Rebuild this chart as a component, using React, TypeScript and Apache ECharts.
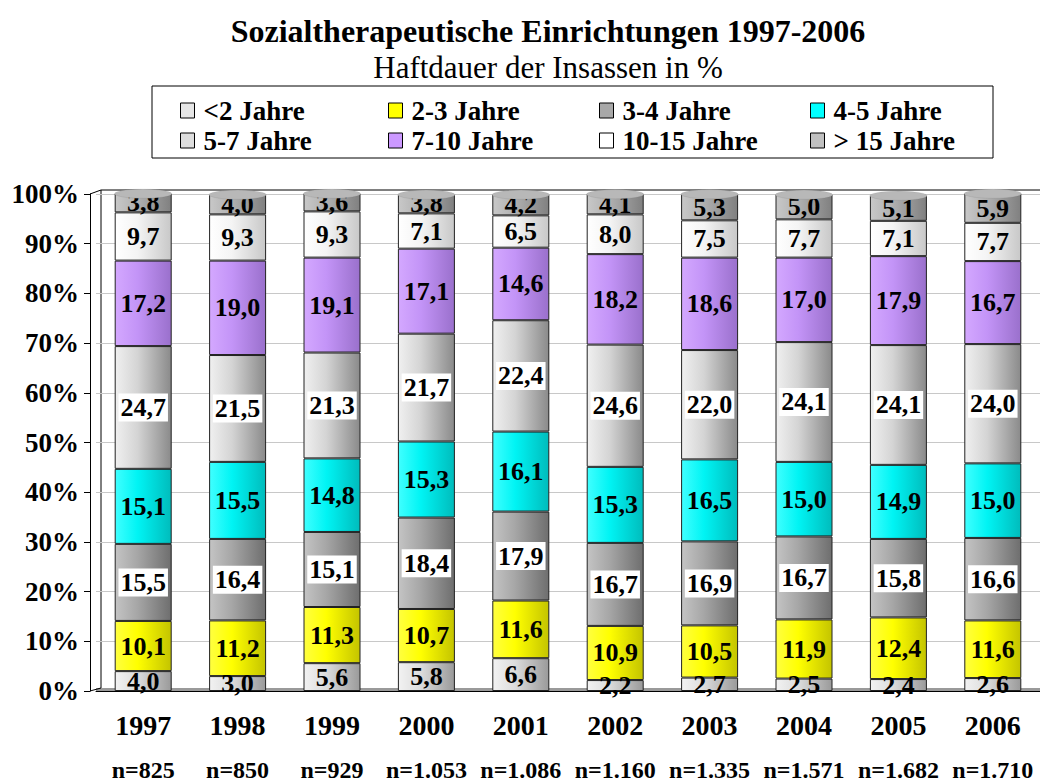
import React, { useEffect, useRef } from "react";
import * as echarts from "echarts";

const years = ["1997", "1998", "1999", "2000", "2001", "2002", "2003", "2004", "2005", "2006"];
const nLabels = ["n=825", "n=850", "n=929", "n=1.053", "n=1.086", "n=1.160", "n=1.335", "n=1.571", "n=1.682", "n=1.710"];
const seriesNames = ["<2 Jahre", "2-3 Jahre", "3-4 Jahre", "4-5 Jahre", "5-7 Jahre", "7-10 Jahre", "10-15 Jahre", "> 15 Jahre"];

const lt2 = [4.0, 3.0, 5.6, 5.8, 6.6, 2.2, 2.7, 2.5, 2.4, 2.6];
const y2to3 = [10.1, 11.2, 11.3, 10.7, 11.6, 10.9, 10.5, 11.9, 12.4, 11.6];
const y3to4 = [15.5, 16.4, 15.1, 18.4, 17.9, 16.7, 16.9, 16.7, 15.8, 16.6];
const y4to5 = [15.1, 15.5, 14.8, 15.3, 16.1, 15.3, 16.5, 15.0, 14.9, 15.0];
const y5to7 = [24.7, 21.5, 21.3, 21.7, 22.4, 24.6, 22.0, 24.1, 24.1, 24.0];
const y7to10 = [17.2, 19.0, 19.1, 17.1, 14.6, 18.2, 18.6, 17.0, 17.9, 16.7];
const y10to15 = [9.7, 9.3, 9.3, 7.1, 6.5, 8.0, 7.5, 7.7, 7.1, 7.7];
const gt15 = [3.8, 4.0, 3.6, 3.8, 4.2, 4.1, 5.3, 5.0, 5.1, 5.9];

const seriesData = [lt2, y2to3, y3to4, y4to5, y5to7, y7to10, y10to15, gt15];
const legendColors = ["#e6e6e6", "#ffff00", "#a8a8a8", "#00ffff", "#dedede", "#cc99ff", "#ffffff", "#c0c0c0"];
const gradColors: string[][] = [
  ["#f2f2f2", "#dcdcdc", "#9a9a9a"],
  ["#ffff40", "#ffff00", "#c4c400"],
  ["#c4c4c4", "#a6a6a6", "#6e6e6e"],
  ["#40ffff", "#00f4f4", "#00bcbc"],
  ["#f0f0f0", "#d4d4d4", "#8a8a8a"],
  ["#d4a8ff", "#c394f7", "#9a70cc"],
  ["#ffffff", "#f4f4f4", "#c8c8c8"],
  ["#c8c8c8", "#b0b0b0", "#808080"],
];
const boxedLabels = [2, 4];

const serif = "Liberation Serif";
const legendCols = [180, 388, 599, 810];
const legendRows = [97, 127];

export default function App() {
  const ref = useRef<HTMLDivElement>(null);
  useEffect(() => {
    document.body.style.margin = "0";
    const chart = echarts.init(ref.current!, null, { renderer: "svg" });
    const totals = years.map((_, i) => seriesData.reduce((s, arr) => s + arr[i], 0));
    const fmt = (p: any) => Number(p.value).toFixed(1).replace(".", ",");
    const barSeries: any[] = seriesNames.map((name, si) => ({
      name,
      type: "bar",
      stack: "total",
      barWidth: 57,
      data: seriesData[si],
      itemStyle: {
        color: {
          type: "linear",
          x: 0, y: 0, x2: 1, y2: 0,
          colorStops: [
            { offset: 0, color: gradColors[si][0] },
            { offset: 0.4, color: gradColors[si][1] },
            { offset: 1, color: gradColors[si][2] },
          ],
        },
        borderColor: "#222",
        borderWidth: 1,
      },
      label: {
        show: true,
        position: "inside",
        formatter: fmt,
        fontFamily: serif,
        fontWeight: "bold",
        fontSize: 26,
        color: "#000",
        backgroundColor: boxedLabels.includes(si) ? "#fff" : "transparent",
        padding: boxedLabels.includes(si) ? [2, 2, 0, 2] : 0,
      },
    }));
    const legendTextStyle = {
      fontFamily: serif,
      fontWeight: "bold",
      fontSize: 27,
      color: "#000",
      padding: [0, 0, 0, 4],
      rich: { t: { fontFamily: serif, fontWeight: "bold", fontSize: 27, color: "#000" } },
    };
    const legends = seriesNames.map((n, k) => ({
      data: [
        {
          name: n,
          itemStyle: { color: legendColors[k], borderColor: "#000", borderWidth: 1 },
        },
      ],
      formatter: (name: string) => `{t|${name}}`,
      left: legendCols[k % 4],
      top: legendRows[Math.floor(k / 4)],
      padding: 0,
      icon: "rect",
      itemWidth: 14,
      itemHeight: 15,
      selectedMode: false,
      textStyle: legendTextStyle,
    }));
    const option: any = {
      animation: false,
      title: [
        {
          text: "Sozialtherapeutische Einrichtungen 1997-2006",
          left: 543,
          top: 10,
          textAlign: "center",
          textStyle: { fontFamily: serif, fontWeight: "bold", fontSize: 32, color: "#000" },
        },
        {
          text: "Haftdauer der Insassen in %",
          left: 543,
          top: 47,
          textAlign: "center",
          textStyle: { fontFamily: serif, fontWeight: "normal", fontSize: 31, color: "#000" },
        },
      ],
      legend: legends,
      grid: { left: 96, top: 194, width: 953, height: 497 },
      xAxis: {
        type: "category",
        data: years,
        axisLine: { lineStyle: { color: "#000", width: 1 } },
        axisTick: { show: false },
        axisLabel: {
          interval: 0,
          margin: 14,
          formatter: (v: string, i: number) => `{y|${v}}\n{n|${nLabels[i]}}`,
          rich: {
            y: { fontFamily: serif, fontWeight: "bold", fontSize: 28, lineHeight: 40, color: "#000" },
            n: { fontFamily: serif, fontWeight: "bold", fontSize: 24, lineHeight: 50, color: "#000" },
          },
        },
      },
      yAxis: {
        type: "value",
        min: 0,
        max: 100,
        interval: 10,
        offset: 6,
        axisLine: { show: true, lineStyle: { color: "#000" } },
        axisTick: { show: true, length: 6, lineStyle: { color: "#000" } },
        axisLabel: {
          formatter: "{value}%",
          margin: 11,
          fontFamily: serif,
          fontWeight: "bold",
          fontSize: 27,
          color: "#000",
        },
        splitLine: { lineStyle: { color: "#c8c8c8", width: 1 } },
      },
      series: [
        ...barSeries,
        {
          type: "pictorialBar",
          name: "cap",
          symbol: "circle",
          symbolSize: [57, 9],
          symbolPosition: "end",
          symbolOffset: [0, "-50%"],
          data: totals,
          z: 5,
          silent: true,
          itemStyle: { color: "#b8b8b8", borderColor: "#222", borderWidth: 1 },
          label: { show: false },
        },
      ],
      graphic: [
        { type: "rect", shape: { x: 152, y: 86, width: 841, height: 72 }, style: { fill: "none", stroke: "#000", lineWidth: 1 } },
        { type: "line", shape: { x1: 101, y1: 190, x2: 101, y2: 688 }, style: { stroke: "#000", lineWidth: 1 } },
        { type: "line", shape: { x1: 101, y1: 190, x2: 1040, y2: 190 }, style: { stroke: "#000", lineWidth: 1 } },
        { type: "line", shape: { x1: 90, y1: 194, x2: 101, y2: 190 }, style: { stroke: "#000", lineWidth: 1 } },
        { type: "line", shape: { x1: 90, y1: 691, x2: 101, y2: 688 }, style: { stroke: "#000", lineWidth: 1 } },
        { type: "rect", shape: { x: 96, y: 688, width: 944, height: 3 }, style: { fill: "#9a9a9a", stroke: "none" }, z: -1 },
      ],
    };
    chart.setOption(option);
    return () => chart.dispose();
  }, []);
  return <div ref={ref} style={{ width: 1040, height: 783 }} />;
}
